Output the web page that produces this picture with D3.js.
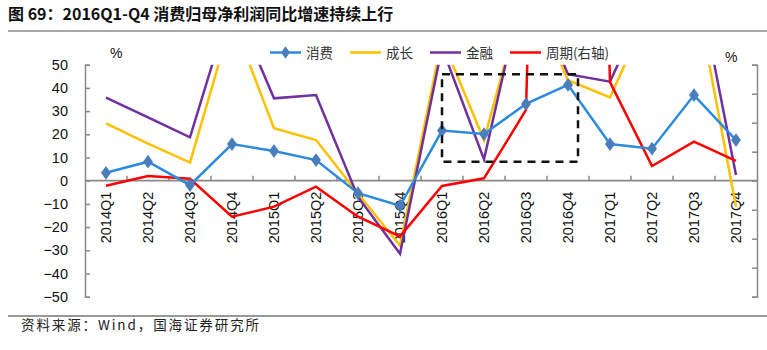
<!DOCTYPE html>
<html><head><meta charset="utf-8">
<script src="https://cdn.jsdelivr.net/npm/d3@7/dist/d3.min.js"></script>
<style>
body{margin:0;background:#fff;}
svg{display:block;}
</style></head>
<body><svg id="c" width="767" height="350"></svg>
<script>
const categories = ['2014Q1','2014Q2','2014Q3','2014Q4','2015Q1','2015Q2','2015Q3','2015Q4','2016Q1','2016Q2','2016Q3','2016Q4','2017Q1','2017Q2','2017Q3','2017Q4'];
const consumption = [3.4, 8.2, -1.9, 15.8, 12.8, 8.9, -5.4, -10.8, 21.6, 20.1, 33.1, 41.3, 15.8, 13.8, 36.9, 17.5];
const growth = [24.7, 16.0, 7.8, 70, 22.6, 17.5, -5.5, -28, 61, 17.5, 84, 43.3, 35.9, 76, 85, -11.2];
const finance = [35.8, 27.3, 18.7, 78, 35.5, 36.9, -7, -31.5, 57.4, 9.2, 89, 45.9, 42.7, 82, 94.7, 2.5];
const cycle = [-8.6, 8.1, 3.4, -62, -44.8, -10.3, -62, -96, -9.1, 4.1, 121.9, 2700, 170, 25.3, 67.2, 34]; // right axis
const leftTicks = [50, 40, 30, 20, 10, 0, -10, -20, -30, -40, -50];
const rightTicks = [200, 150, 100, 50, 0, -50, -100, -150, -200];
const seriesNames = ['消费', '成长', '金融', '周期(右轴)'];
const highlightCats = ['2016Q1', '2016Q4'];
const highlightVals = [8.2, 45.9];

const colors = {blue:'#2D8BDB', marker:'#4A7EBB', yellow:'#FFC000', purple:'#7030A0', red:'#FF0000'};
const svg = d3.select('#c');
const L = 85, R = 757, T = 64.7, B = 296.7;

const x = d3.scaleBand().domain(categories).range([L, R]).padding(0);
const cx = c => x(c) + x.bandwidth()/2;
const yL = d3.scaleLinear().domain([-50, 50]).range([B, T]);
const yR = d3.scaleLinear().domain([-200, 200]).range([B, T]);

// title
svg.append('text').attr('x', 8).attr('y', 20)
  .style('font-family','"Noto Sans CJK SC", sans-serif').style('font-size','16px').style('font-weight','bold').attr('fill','#111')
  .text('图 69：2016Q1-Q4 消费归母净利润同比增速持续上行');
svg.append('line').attr('x1',8).attr('x2',767).attr('y1',31).attr('y2',31).attr('stroke','#555').attr('stroke-width',1.2);
svg.append('line').attr('x1',8).attr('x2',767).attr('y1',316).attr('y2',316).attr('stroke','#333').attr('stroke-width',1.2);
svg.append('text').attr('x', 21).attr('y', 330)
  .style('font-family','"Noto Sans CJK SC", serif').style('font-size','13.5px').style('letter-spacing','1.9px').attr('fill','#222')
  .text('资料来源：Wind，国海证券研究所');

// left axis
const axL = svg.append('g').attr('transform',`translate(${L},0)`)
  .call(d3.axisLeft(yL).tickValues(leftTicks).tickSize(-5).tickPadding(17).tickFormat(d3.format('d')));
axL.select('.domain').attr('stroke','#898989').attr('stroke-width',1.5);
axL.selectAll('.tick line').attr('stroke','#898989').attr('stroke-width',1.5);
axL.selectAll('text').style('font-family','"Liberation Sans", Arial, sans-serif').style('font-size','14.5px').attr('fill','#111');

// right axis (no labels)
const axR = svg.append('g').attr('transform',`translate(${R},0)`)
  .call(d3.axisRight(yR).tickValues(rightTicks).tickSize(-5).tickFormat(''));
axR.select('.domain').attr('stroke','#898989').attr('stroke-width',1.5);
axR.selectAll('.tick line').attr('stroke','#898989').attr('stroke-width',1.5);

// percent signs
svg.append('text').attr('x',110).attr('y',58).style('font-family','"Liberation Sans", Arial, sans-serif').style('font-size','14px').attr('fill','#111').text('%');
svg.append('text').attr('x',725).attr('y',62).style('font-family','"Liberation Sans", Arial, sans-serif').style('font-size','14px').attr('fill','#111').text('%');

// x axis at zero
const y0 = yL(0);
svg.append('line').attr('x1',L).attr('x2',R).attr('y1',y0).attr('y2',y0).attr('stroke','#898989').attr('stroke-width',1.8);
const bounds = categories.slice(1).map(c => x(c));
svg.append('g').selectAll('line').data(bounds).join('line')
  .attr('x1',d=>d).attr('x2',d=>d).attr('y1',y0).attr('y2',y0-5).attr('stroke','#898989').attr('stroke-width',1.5);
svg.append('g').selectAll('text').data(categories).join('text')
  .attr('transform', c => `translate(${cx(c)+5},${y0+11}) rotate(-90)`)
  .attr('text-anchor','end')
  .style('font-family','"Liberation Sans", Arial, sans-serif').style('font-size','14.5px').attr('fill','#111')
  .text(c=>c);

// clip
svg.append('defs').append('clipPath').attr('id','plot').append('rect')
  .attr('x',L).attr('y',T).attr('width',R-L).attr('height',B-T);

const plot = svg.append('g').attr('clip-path','url(#plot)');
const lineL = d3.line().x((d,i)=>cx(categories[i])).y(d=>yL(d));
const lineR = d3.line().x((d,i)=>cx(categories[i])).y(d=>yR(d));

plot.append('path').datum(growth).attr('d',lineL).attr('fill','none').attr('stroke',colors.yellow).attr('stroke-width',2.5);
plot.append('path').datum(finance).attr('d',lineL).attr('fill','none').attr('stroke',colors.purple).attr('stroke-width',2.5);
plot.append('path').datum(cycle).attr('d',lineR).attr('fill','none').attr('stroke',colors.red).attr('stroke-width',2.5);
plot.append('path').datum(consumption).attr('d',lineL).attr('fill','none').attr('stroke',colors.blue).attr('stroke-width',2.5);

const diamond = d3.symbol().type(d3.symbolDiamond).size(55);
svg.append('g').selectAll('path').data(consumption).join('path')
  .attr('d', diamond)
  .attr('transform',(d,i)=>`translate(${cx(categories[i])},${yL(d)}) scale(1.25,1)`)
  .attr('fill',colors.marker);

// highlight dashed box
const bx1 = cx(highlightCats[0]), bx2 = cx(highlightCats[1]) + 10;
svg.append('rect').attr('x',bx1).attr('y',yL(highlightVals[1])).attr('width',bx2-bx1).attr('height',yL(highlightVals[0])-yL(highlightVals[1]))
  .attr('fill','none').attr('stroke','#111').attr('stroke-width',2.5).attr('stroke-dasharray','8,6');

// legend
const legendX = [270, 350, 430, 510];
const legendColors = [colors.blue, colors.yellow, colors.purple, colors.red];
const lg = svg.append('g');
seriesNames.forEach((n,i)=>{
  const g = lg.append('g').attr('transform',`translate(${legendX[i]},52.5)`);
  g.append('line').attr('x1',0).attr('x2',31).attr('y1',0).attr('y2',0).attr('stroke',legendColors[i]).attr('stroke-width',2.5);
  if(i===0) g.append('path').attr('d',diamond).attr('transform','translate(15.5,0) scale(1.1,0.9)').attr('fill',colors.marker);
  g.append('text').attr('x',36).attr('y',5).style('font-family','"Noto Sans CJK SC", serif').style('font-size','13.5px').attr('fill','#333').text(n);
});
</script></body></html>
